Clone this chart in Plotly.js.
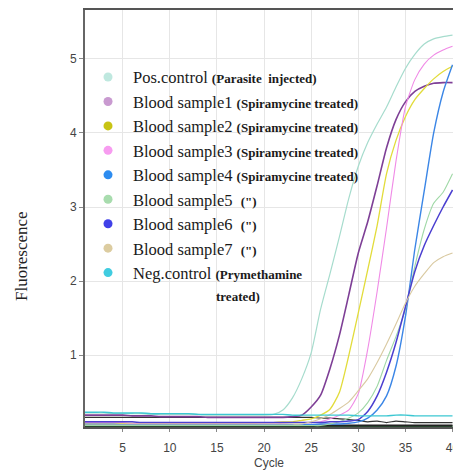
<!DOCTYPE html>
<html>
<head>
<meta charset="utf-8">
<script src="https://cdn.plot.ly/plotly-3.0.1.min.js"></script>
<style>html,body{margin:0;padding:0;background:#fff;overflow:hidden}#chart{width:453px;height:470px}</style>
</head>
<body>
<div id="chart"></div>
<script>
// ---- data (cycles 1..40) ----
const cycles = [1,2,3,4,5,6,7,8,9,10,11,12,13,14,15,16,17,18,19,20,21,22,23,24,25,26,27,28,29,30,31,32,33,34,35,36,37,38,39,40];
const xTicks = [5,10,15,20,25,30,35,40];
const yTicks = [1,2,3,4,5];

const posControl = [0.22,0.22,0.22,0.21,0.21,0.21,0.21,0.2,0.2,0.2,0.2,0.2,0.2,0.19,0.19,0.19,0.19,0.19,0.19,0.19,0.2,
  0.26,0.42,0.68,1.03,1.62,2.1,2.6,3.12,3.55,3.87,4.12,4.35,4.62,4.87,5.06,5.2,5.27,5.3,5.32];
const sample1 = [0.19,0.19,0.19,0.19,0.19,0.18,0.18,0.18,0.17,0.17,0.17,0.17,0.17,0.16,0.16,0.16,0.16,0.16,0.16,0.16,0.16,0.16,0.17,
  0.19,0.3,0.46,0.82,1.27,1.82,2.38,2.8,3.29,3.8,4.18,4.42,4.56,4.63,4.67,4.68,4.68];
const sample2 = [0.08,0.08,0.08,0.08,0.08,0.08,0.08,0.08,0.08,0.08,0.08,0.08,0.08,0.08,0.08,0.08,0.08,0.08,0.08,0.09,0.09,0.1,
  0.1,0.12,0.14,0.19,0.27,0.5,1.0,1.57,2.15,2.75,3.45,3.9,4.22,4.45,4.6,4.73,4.83,4.9];
const sample3 = [0.09,0.09,0.09,0.09,0.09,0.08,0.08,0.08,0.08,0.08,0.08,0.08,0.08,0.08,0.08,0.08,0.08,0.08,0.08,0.08,0.08,0.08,0.09,0.09,0.09,
  0.1,0.14,0.19,0.26,0.48,1.08,1.86,2.72,3.62,4.35,4.72,4.93,5.05,5.12,5.17];
const sample4 = [0.07,0.07,0.07,0.07,0.06,0.06,0.06,0.06,0.06,0.06,0.06,0.06,0.06,0.06,0.06,0.06,0.06,0.06,0.06,0.06,0.06,0.06,0.06,0.06,0.06,0.07,0.07,0.07,
  0.08,0.1,0.15,0.26,0.45,0.85,1.52,2.43,3.22,4.0,4.55,4.92];
const sample5 = [0.05,0.05,0.05,0.05,0.05,0.05,0.05,0.05,0.05,0.05,0.05,0.05,0.05,0.05,0.05,0.05,0.05,0.05,0.05,0.05,0.05,0.05,0.05,0.05,0.05,0.05,0.07,
  0.1,0.15,0.22,0.36,0.58,0.93,1.25,1.62,2.2,2.7,3.05,3.2,3.45];
const sample6 = [0.1,0.1,0.1,0.1,0.1,0.1,0.09,0.09,0.09,0.09,0.09,0.09,0.09,0.09,0.09,0.09,0.09,0.09,0.09,0.09,0.09,0.09,0.09,0.09,0.09,0.09,0.1,0.1,0.11,
  0.13,0.24,0.45,0.77,1.17,1.65,2.13,2.48,2.75,3.0,3.23];
const sample7 = [0.07,0.07,0.07,0.07,0.07,0.07,0.07,0.07,0.07,0.07,0.07,0.07,0.07,0.07,0.07,0.07,0.07,0.07,0.07,0.07,0.07,0.07,0.07,0.07,
  0.1,0.14,0.2,0.28,0.37,0.52,0.68,0.9,1.15,1.42,1.7,1.93,2.1,2.25,2.33,2.38];
const negControl = [0.23,0.23,0.23,0.22,0.22,0.22,0.22,0.21,0.21,0.21,0.21,0.21,0.2,0.2,0.2,0.2,0.2,0.2,0.2,0.2,0.2,0.2,
  0.19,0.19,0.19,0.19,0.19,0.19,0.19,0.18,0.18,0.18,0.18,0.19,0.19,0.18,0.18,0.18,0.18,0.18];
// unlabelled baseline traces visible near the bottom
const baseGreen = [0.04,0.04,0.04,0.04,0.04,0.04,0.04,0.04,0.04,0.04,0.04,0.04,0.04,0.04,0.04,0.04,0.04,0.04,0.04,0.04,0.04,0.04,0.04,0.04,0.04,0.04,0.04,0.04,0.04,0.04,0.04,0.04,0.04,0.04,0.04,0.04,0.04,0.04,0.04,0.04];
const baseBlack = [0.05,0.05,0.05,0.05,0.05,0.05,0.05,0.05,0.05,0.05,0.05,0.05,0.05,0.05,0.05,0.05,0.05,0.05,0.05,0.05,0.05,0.05,0.05,0.05,0.05,0.05,0.05,0.05,0.05,0.05,0.05,0.05,0.05,0.05,0.05,0.05,0.05,0.05,0.05,0.05];
const wavyBlack = [0.16,0.16,0.16,0.16,0.16,0.16,0.16,0.16,0.16,0.16,0.16,0.16,0.16,0.16,0.16,0.16,0.16,0.16,0.16,0.16,0.16,0.16,0.16,0.16,0.16,
  0.15,0.15,0.14,0.13,0.12,0.1,0.11,0.09,0.11,0.1,0.09,0.09,0.09,0.09,0.09];

const seriesNames = [
  'Pos.control <b><span style="font-size:13px">(Parasite&nbsp; injected)</span></b>',
  'Blood sample1 <b><span style="font-size:13px">(Spiramycine treated)</span></b>',
  'Blood sample2 <b><span style="font-size:13px">(Spiramycine treated)</span></b>',
  'Blood sample3 <b><span style="font-size:13px">(Spiramycine treated)</span></b>',
  'Blood sample4 <b><span style="font-size:13px">(Spiramycine treated)</span></b>',
  'Blood sample5&nbsp; <b><span style="font-size:13px">(")</span></b>',
  'Blood sample6&nbsp; <b><span style="font-size:13px">(")</span></b>',
  'Blood sample7&nbsp; <b><span style="font-size:13px">(")</span></b>',
  'Neg.control <b><span style="font-size:13px">(Prymethamine</span></b>'
];
const seriesValues = [posControl, sample1, sample2, sample3, sample4, sample5, sample6, sample7, negControl];
const lineColors = ['#a6dccd','#7e3f96','#e2dc3a','#f08ae6','#3b86e6','#9fd8a6','#4b3fd0','#d9c9a0','#3cc7d2'];
const lineWidths = [1.2,1.6,1.3,1.1,1.4,1.1,1.5,1.1,1.4];
const markerColors = ['#bfe8df','#c99ad0','#c8c414','#f79cf0','#2d8cf0','#a8dcae','#4040e8','#dccca0','#40cce0'];

const traces = [];
[[baseGreen,'#2e6b3a',2],[baseBlack,'#222222',2],[wavyBlack,'#333333',1.2]].forEach(function(b){
  traces.push({x: cycles, y: b[0], type:'scatter', mode:'lines', showlegend:false, hoverinfo:'skip',
    line:{color:b[1], width:b[2], shape:'spline', smoothing:0.6}});
});
seriesValues.forEach(function(v,i){
  traces.push({x: cycles, y: v, type:'scatter', mode:'lines', showlegend:false,
    line:{color:lineColors[i], width:lineWidths[i], shape:'spline', smoothing:0.6}});
});
seriesNames.forEach(function(n,i){
  traces.push({x:[null], y:[null], type:'scatter', mode:'markers', name:n, showlegend:true,
    marker:{color:markerColors[i], size:9}});
});

const axisFont = {family:'Liberation Sans Narrow, Arial Narrow, Liberation Sans, Arial', size:12, color:'#444'};
const layout = {
  width:453, height:470,
  margin:{l:85, r:0, t:10, b:43, pad:0},
  paper_bgcolor:'#ffffff', plot_bgcolor:'#ffffff',
  showlegend:true,
  xaxis:{range:[1,40.05], tickvals:xTicks, ticktext:xTicks.map(String), showgrid:true, gridcolor:'#e6e6e6', gridwidth:1,
    zeroline:false, showline:true, mirror:true, linecolor:'#555', linewidth:2, ticks:'outside', ticklen:3, tickcolor:'#888',
    ticklabeloverflow:'allow', ticklabelstandoff:6,
    tickfont:axisFont, title:{text:'Cycle', font:axisFont, standoff:4}},
  yaxis:{range:[0.03,5.66], tickvals:yTicks, ticktext:yTicks.map(String), showgrid:true, gridcolor:'#e6e6e6', gridwidth:1,
    zeroline:false, showline:true, mirror:true, linecolor:'#666', linewidth:2, ticks:'outside', ticklen:4, tickcolor:'#888',
    tickfont:axisFont},
  legend:{x:-0.0054, y:0.8806, xanchor:'left', yanchor:'top', bgcolor:'rgba(0,0,0,0)', borderwidth:0,
    itemwidth:40, font:{family:'Liberation Serif, Times New Roman, serif', size:16.5, color:'#1a1a1a'}},
  annotations:[
    {text:'Fluorescence', xref:'paper', yref:'paper', x:-0.1739, y:0.41, xanchor:'center', yanchor:'middle', textangle:-90,
      showarrow:false, font:{family:'Liberation Serif, Times New Roman, serif', size:17, color:'#222'}},
    {text:'<b>treated)</b>', xref:'paper', yref:'paper', x:0.3505, y:0.3118, xanchor:'left', yanchor:'middle',
      showarrow:false, font:{family:'Liberation Serif, Times New Roman, serif', size:13, color:'#1a1a1a'}}
  ]
};
Plotly.newPlot('chart', traces, layout, {displayModeBar:false, staticPlot:true});
</script>
</body>
</html>
